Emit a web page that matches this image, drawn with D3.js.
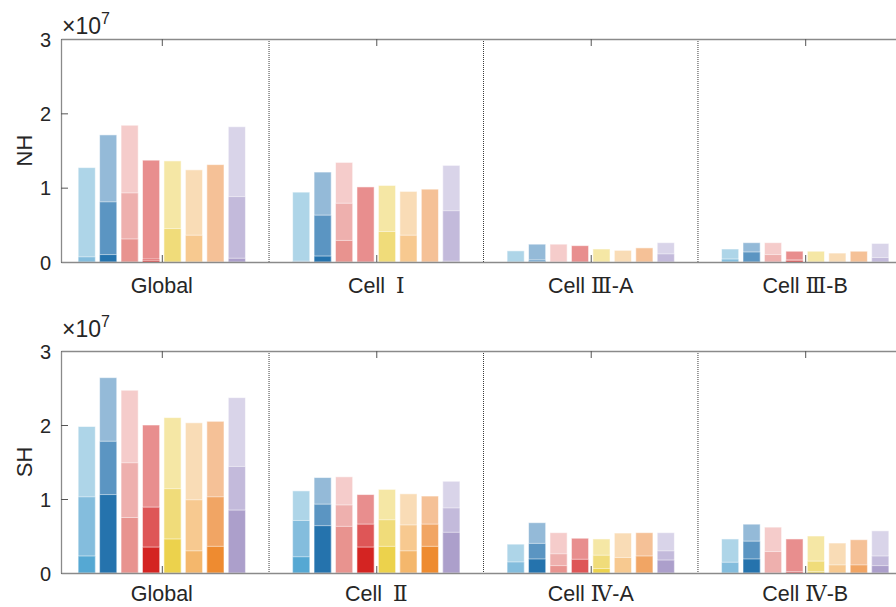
<!DOCTYPE html>
<html>
<head>
<meta charset="utf-8">
<script src="https://cdn.jsdelivr.net/npm/d3@7"></script>
<style>
  body { margin: 0; background: #fff; overflow: hidden; }
  svg { display: block; }
</style>
</head>
<body>
<svg id="chart"></svg>
<script>
  const width = 896;
  const height = 607;

  // group labels for the two hemispheres
  const nhGroups = ["Global", "Cell Ⅰ", "Cell Ⅲ-A", "Cell Ⅲ-B"];
  const shGroups = ["Global", "Cell Ⅱ", "Cell Ⅳ-A", "Cell Ⅳ-B"];

  // values in units of 1e7, one row per group, 8 bars per group
  // total = full bar, mid = middle layer, low = darkest layer
  const nhTotal = [
    [1.27, 1.71, 1.84, 1.37, 1.36, 1.24, 1.31, 1.82],
    [0.94, 1.21, 1.34, 1.01, 1.03, 0.95, 0.98, 1.30],
    [0.15, 0.24, 0.24, 0.22, 0.175, 0.157, 0.19, 0.26],
    [0.175, 0.26, 0.26, 0.145, 0.145, 0.12, 0.145, 0.25]
  ];
  const nhMid = [
    [0.07, 0.81, 0.93, 0.04, 0.45, 0.36, 0, 0.88],
    [0.01, 0.63, 0.79, 0, 0.41, 0.36, 0, 0.69],
    [0, 0.03, 0, 0, 0, 0, 0, 0.11],
    [0.04, 0.135, 0.10, 0.03, 0, 0, 0, 0.06]
  ];
  const nhLow = [
    [0, 0.10, 0.31, 0.02, 0, 0, 0, 0.05],
    [0, 0.08, 0.29, 0, 0, 0, 0, 0.01],
    [0, 0.01, 0, 0, 0, 0, 0, 0],
    [0, 0, 0, 0.02, 0, 0, 0, 0]
  ];

  const shTotal = [
    [1.98, 2.64, 2.47, 2.00, 2.10, 2.03, 2.05, 2.37],
    [1.11, 1.29, 1.30, 1.06, 1.13, 1.07, 1.04, 1.24],
    [0.39, 0.68, 0.545, 0.47, 0.46, 0.54, 0.545, 0.545],
    [0.46, 0.66, 0.62, 0.46, 0.50, 0.405, 0.45, 0.57]
  ];
  const shMid = [
    [1.03, 1.78, 1.49, 0.89, 1.14, 0.99, 1.03, 1.44],
    [0.71, 0.93, 0.92, 0.66, 0.72, 0.65, 0.66, 0.88],
    [0.15, 0.40, 0.26, 0.185, 0.24, 0.21, 0.23, 0.30],
    [0.145, 0.43, 0.29, 0.02, 0.16, 0.11, 0.11, 0.23]
  ];
  const shLow = [
    [0.23, 1.06, 0.75, 0.35, 0.46, 0.30, 0.36, 0.85],
    [0.22, 0.64, 0.63, 0.35, 0.36, 0.30, 0.36, 0.55],
    [0, 0.19, 0.10, 0, 0.06, 0, 0, 0.175],
    [0, 0.19, 0, 0, 0.02, 0, 0, 0.10]
  ];

  // three shades per bar: darkest, middle, lightest
  const lowColors = ["#55a8d3", "#2573ad", "#e8938f", "#d42422", "#ecd24c", "#f4b76c", "#ee8b30", "#ac9fcb"];
  const midColors = ["#84bddd", "#5b95c2", "#eeb0ae", "#de5657", "#f0dc7a", "#f7c990", "#f1a564", "#c3badb"];
  const topColors = ["#aed5e8", "#94bad8", "#f5cccb", "#e88e8e", "#f5e7a5", "#f9dcb6", "#f5c197", "#d9d4e9"];

  const yTicks = [0, 1, 2, 3];

  const panels = [
    { label: "NH", groups: nhGroups, total: nhTotal, mid: nhMid, low: nhLow, y0: 262, yTop: 39, labelOff: 31, expOff: 5 },
    { label: "SH", groups: shGroups, total: shTotal, mid: shMid, low: shLow, y0: 573, yTop: 351, labelOff: 28, expOff: 14 }
  ];

  const svg = d3.select("#chart")
    .attr("width", width)
    .attr("height", height);

  // axes run past the right edge of the picture, like the cropped original
  const x = d3.scaleLinear().domain([0.53, 4.47]).range([61, 906]);
  const barW = x(0.08) - x(0);

  const textColor = "#262626";
  const axisColor = "#8a8a8a";
  const sansFont = "'Liberation Sans', Arial, sans-serif";

  function splitLabel(sel, txt) {
    // roman numerals drawn in a serif face
    txt.split(/([Ⅰ-Ⅻ]+)/).filter(s => s.length).forEach(part => {
      const t = sel.append("tspan").text(part);
      if (/[Ⅰ-Ⅻ]/.test(part)) {
        t.attr("font-family", "'Liberation Serif', 'DejaVu Serif', serif");
        if (/^[ⅠⅡ]$/.test(part)) t.attr("dx", 5);
      }
    });
  }

  panels.forEach(p => {
    const y = d3.scaleLinear().domain([0, 3]).range([p.y0, p.yTop]);
    const g = svg.append("g");

    // bars: total, then middle, then low layer on top
    const layers = [
      { data: p.total, colors: topColors },
      { data: p.mid, colors: midColors },
      { data: p.low, colors: lowColors }
    ];
    layers.forEach(layer => {
      layer.data.forEach((row, gi) => {
        const items = row.map((v, i) => ({ v, i })).filter(d => d.v > 0);
        g.selectAll(null)
          .data(items)
          .enter()
          .append("rect")
          .attr("x", d => x(gi + 1 + (d.i - 3.5) * 0.1) - barW / 2)
          .attr("y", d => y(d.v))
          .attr("width", barW)
          .attr("height", d => y(0) - y(d.v))
          .attr("fill", d => layer.colors[d.i])
          .attr("stroke", "#fff")
          .attr("stroke-opacity", 0.55)
          .attr("stroke-width", 1);
      });
    });

    // dotted dividers between groups
    g.selectAll("line.div")
      .data([1.5, 2.5, 3.5])
      .enter()
      .append("line")
      .attr("class", "div")
      .attr("x1", d => x(d))
      .attr("x2", d => x(d))
      .attr("y1", p.yTop)
      .attr("y2", p.y0)
      .attr("stroke", "#3a3a3a")
      .attr("stroke-width", 1)
      .attr("stroke-dasharray", "1,1");

    // left axis
    const yAxis = d3.axisLeft(y)
      .tickValues(yTicks)
      .tickFormat(d3.format("d"))
      .tickSizeInner(-7)
      .tickSizeOuter(0)
      .tickPadding(10);
    const ya = g.append("g")
      .attr("transform", `translate(${x.range()[0]},0)`)
      .call(yAxis);
    ya.select(".domain").attr("stroke", axisColor).attr("stroke-width", 1.3);
    ya.selectAll(".tick line").attr("stroke", "#555");
    ya.selectAll(".tick text")
      .attr("fill", textColor)
      .attr("font-family", sansFont)
      .attr("font-size", 20)
      .attr("dy", "0.36em");

    // bottom axis
    const xAxis = d3.axisBottom(x)
      .tickValues([1, 2, 3, 4])
      .tickFormat("")
      .tickSizeInner(-7)
      .tickSizeOuter(0);
    const xa = g.append("g")
      .attr("transform", `translate(0,${p.y0})`)
      .call(xAxis);
    xa.select(".domain").attr("stroke", axisColor).attr("stroke-width", 1.3);
    xa.selectAll(".tick line").attr("stroke", "#555");

    // top box line
    const xTop = d3.axisTop(x)
      .tickValues([1, 2, 3, 4])
      .tickFormat("")
      .tickSizeInner(-7)
      .tickSizeOuter(0);
    const xt = g.append("g")
      .attr("transform", `translate(0,${p.yTop})`)
      .call(xTop);
    xt.select(".domain").attr("stroke", axisColor).attr("stroke-width", 1.3);
    xt.selectAll(".tick line").attr("stroke", "#555");

    // group labels
    p.groups.forEach((name, i) => {
      const t = g.append("text")
        .attr("x", x(i + 1))
        .attr("y", p.y0 + p.labelOff)
        .attr("text-anchor", "middle")
        .attr("fill", textColor)
        .attr("font-family", sansFont)
        .attr("font-size", 21.5);
      splitLabel(t, name);
    });

    // exponent label
    const ex = g.append("text")
      .attr("x", x.range()[0] + 1)
      .attr("y", p.yTop - p.expOff)
      .attr("fill", textColor)
      .attr("font-family", sansFont)
      .attr("font-size", 23);
    ex.append("tspan").text("×10");
    ex.append("tspan").attr("dy", -10).attr("font-size", 16).text("7");

    // hemisphere label
    g.append("text")
      .attr("transform", `translate(32,${(p.y0 + p.yTop) / 2}) rotate(-90)`)
      .attr("text-anchor", "middle")
      .attr("fill", textColor)
      .attr("font-family", sansFont)
      .attr("font-size", 22)
      .text(p.label);
  });
</script>
</body>
</html>
